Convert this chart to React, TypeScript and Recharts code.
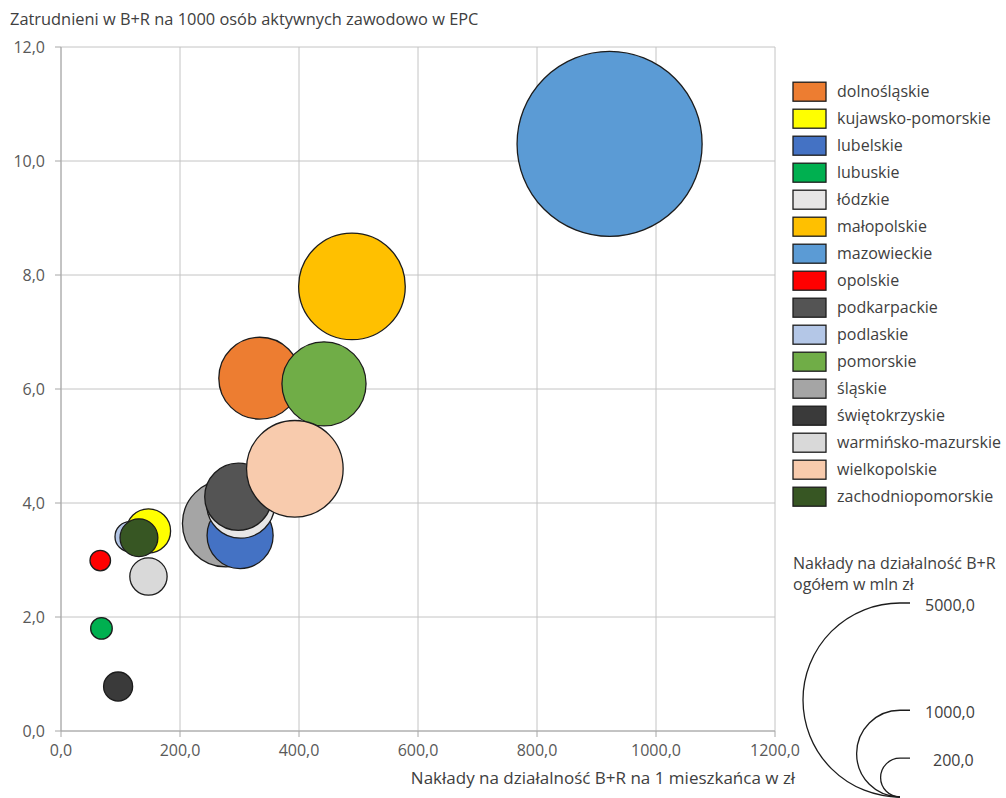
import { ScatterChart, Scatter, XAxis, YAxis, ZAxis, CartesianGrid } from 'recharts';

const regions = [
  'dolnośląskie',
  'kujawsko-pomorskie',
  'lubelskie',
  'lubuskie',
  'łódzkie',
  'małopolskie',
  'mazowieckie',
  'opolskie',
  'podkarpackie',
  'podlaskie',
  'pomorskie',
  'śląskie',
  'świętokrzyskie',
  'warmińsko-mazurskie',
  'wielkopolskie',
  'zachodniopomorskie',
];

// nakłady na B+R na 1 mieszkańca (zł)
const spendingPerCapita = [334, 147, 301, 68, 302, 489, 922, 66, 298, 116, 442, 277, 96, 147, 393, 131];
// zatrudnieni w B+R na 1000 aktywnych zawodowo
const staffPer1000 = [6.19, 3.51, 3.43, 1.8, 3.98, 7.8, 10.3, 2.99, 4.11, 3.41, 6.09, 3.64, 0.78, 2.71, 4.6, 3.39];
// nakłady ogółem (mln zł)
const totalSpending = [890, 260, 580, 62, 615, 1510, 4550, 56, 600, 120, 940, 1000, 112, 185, 1240, 190];

const colors = [
  '#ED7D31', '#FFFF00', '#4472C4', '#00B050', '#E7E6E6', '#FFC000', '#5B9BD5', '#FF0000',
  '#545454', '#B4C7E7', '#70AD47', '#A5A5A5', '#3A3A3A', '#D9D9D9', '#F8CBAD', '#375623',
];

// kolejność rysowania (duże pod spodem)
const drawOrder = [6, 5, 0, 10, 11, 2, 4, 8, 14, 1, 9, 15, 13, 7, 3, 12];

const xTicks = [0, 200, 400, 600, 800, 1000, 1200];
const yTicks = [0, 2, 4, 6, 8, 10, 12];
const sizeLegendValues = [5000, 1000, 200];

const MAX_Z = 5000;
const MAX_R = 97;

const fmt = (v: number) => v.toFixed(1).replace('.', ',');

export default function App() {
  const legendX = 793;
  const rowY = (i: number) => 91.7 + 27 * i;
  const cx = 900;
  const bottom = 797;

  return (
    <div style={{ position: 'absolute', left: 0, top: 0, width: 1006, height: 798, fontFamily: 'Open Sans', background: '#fff' }}>
      <ScatterChart width={1006} height={798} margin={{ top: 47, right: 231, bottom: 37, left: 0 }}>
        <CartesianGrid stroke="#c4c4c4" />
        <XAxis
          type="number"
          dataKey="x"
          domain={[0, 1200]}
          ticks={xTicks}
          tickFormatter={fmt}
          height={30}
          stroke="#a6a6a6"
          tickSize={6}
          tickMargin={8}
          tick={{ fill: '#595959', fontSize: 16 }}
        />
        <YAxis
          type="number"
          dataKey="y"
          domain={[0, 12]}
          ticks={yTicks}
          tickFormatter={fmt}
          width={61}
          stroke="#a6a6a6"
          tickSize={6}
          tickMargin={10}
          tick={{ fill: '#595959', fontSize: 16 }}
        />
        <ZAxis type="number" dataKey="z" domain={[0, MAX_Z]} range={[0, Math.PI * MAX_R * MAX_R]} />
        {drawOrder.map(i => (
          <Scatter
            key={regions[i]}
            name={regions[i]}
            data={[{ x: spendingPerCapita[i], y: staffPer1000[i], z: totalSpending[i] }]}
            fill={colors[i]}
            stroke="#1c1c1c"
            strokeWidth={1.3}
            isAnimationActive={false}
          />
        ))}
      </ScatterChart>

      <svg width={1006} height={798} style={{ position: 'absolute', left: 0, top: 0, pointerEvents: 'none' }}>
        <text x={10} y={25} fontSize={16.4} fill="#404040">
          Zatrudnieni w B+R na 1000 osób aktywnych zawodowo w EPC
        </text>
        <text x={603} y={784} fontSize={17} fill="#404040" textAnchor="middle">
          Nakłady na działalność B+R na 1 mieszkańca w zł
        </text>

        {regions.map((name, i) => (
          <g key={name}>
            <rect x={legendX} y={rowY(i) - 9.5} width={33} height={19} fill={colors[i]} stroke="#1c1c1c" strokeWidth={1.3} />
            <text x={837} y={rowY(i) + 5.5} fontSize={16} fill="#404040">{name}</text>
          </g>
        ))}

        <text x={793} y={569} fontSize={16} fill="#404040">Nakłady na działalność B+R</text>
        <text x={793} y={590} fontSize={16} fill="#404040">ogółem w mln zł</text>
        {sizeLegendValues.map(v => {
          const r = MAX_R * Math.sqrt(v / MAX_Z);
          const top = bottom - 2 * r;
          return (
            <g key={v}>
              <path
                d={`M ${cx} ${bottom} A ${r} ${r} 0 0 1 ${cx} ${top} L ${cx + 10} ${top}`}
                fill="none"
                stroke="#1c1c1c"
                strokeWidth={1.3}
              />
              <text x={v < 1000 ? 933 : 925} y={top + 8} fontSize={16} fill="#404040">{fmt(v)}</text>
            </g>
          );
        })}
      </svg>
    </div>
  );
}
